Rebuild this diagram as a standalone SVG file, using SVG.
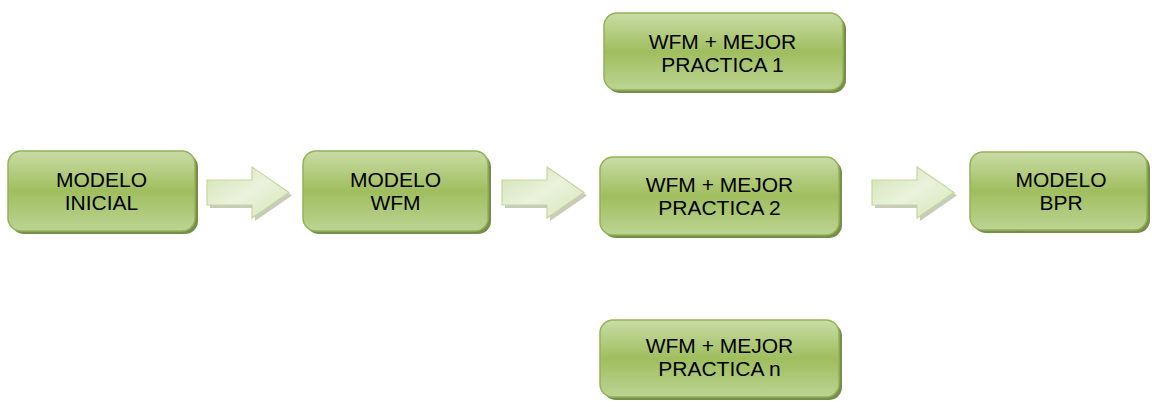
<svg xmlns="http://www.w3.org/2000/svg" width="1152" height="401" viewBox="0 0 1152 401">
  <defs>
    <linearGradient id="boxFill" x1="0" y1="0" x2="0" y2="1">
      <stop offset="0" stop-color="#c9dca6"/>
      <stop offset="0.5" stop-color="#9fbe5e"/>
      <stop offset="1" stop-color="#bcd493"/>
    </linearGradient>
    <linearGradient id="arrowFill" x1="0" y1="0" x2="1" y2="1">
      <stop offset="0" stop-color="#d2e3b2"/>
      <stop offset="0.5" stop-color="#eaf2dc"/>
      <stop offset="1" stop-color="#d6e6b8"/>
    </linearGradient>
    <path id="arrowShape" d="M0,13 H45 V0 L82,25.5 L45,51 V38 H0 Z"/>
  </defs>
  <style>
    .shadow { fill: #5d7a2c; opacity: 0.85; }
    .box { fill: url(#boxFill); stroke: #93b356; stroke-width: 1.5; }
    .label { font-family: "Liberation Sans", Arial, sans-serif; font-size: 21px; fill: #000; text-anchor: middle; }
    .arrow { fill: url(#arrowFill); stroke: #c3d99b; stroke-width: 1.2; }
    .arrow-shadow { fill: #b3b3a0; opacity: 0.7; }
  </style>

  <!-- connectors: block arrows between stages -->
  <g id="connectors">
    <g transform="translate(207,167)">
      <use href="#arrowShape" class="arrow-shadow" transform="translate(3,3)"/>
      <use href="#arrowShape" class="arrow"/>
    </g>
    <g transform="translate(502,167)">
      <use href="#arrowShape" class="arrow-shadow" transform="translate(3,3)"/>
      <use href="#arrowShape" class="arrow"/>
    </g>
    <g transform="translate(872,167)">
      <use href="#arrowShape" class="arrow-shadow" transform="translate(3,3)"/>
      <use href="#arrowShape" class="arrow"/>
    </g>
  </g>

  <g id="modelo-inicial">
    <rect class="shadow" x="11" y="154" width="187" height="80" rx="13"/>
    <rect class="box" x="8" y="151" width="187" height="80" rx="13"/>
    <text class="label" x="101.5" y="187">MODELO</text>
    <text class="label" x="101.5" y="210">INICIAL</text>
  </g>

  <g id="modelo-wfm">
    <rect class="shadow" x="306" y="154" width="185" height="80" rx="13"/>
    <rect class="box" x="303" y="151" width="185" height="80" rx="13"/>
    <text class="label" x="395.5" y="187">MODELO</text>
    <text class="label" x="395.5" y="210">WFM</text>
  </g>

  <g id="wfm-practica-1">
    <rect class="shadow" x="607" y="16" width="239" height="77" rx="13"/>
    <rect class="box" x="604" y="13" width="239" height="77" rx="13"/>
    <text class="label" x="722.5" y="49">WFM + MEJOR</text>
    <text class="label" x="722.5" y="72">PRACTICA 1</text>
  </g>

  <g id="wfm-practica-2">
    <rect class="shadow" x="603" y="160" width="239" height="78" rx="13"/>
    <rect class="box" x="600" y="157" width="239" height="78" rx="13"/>
    <text class="label" x="719.5" y="192">WFM + MEJOR</text>
    <text class="label" x="719.5" y="215">PRACTICA 2</text>
  </g>

  <g id="wfm-practica-n">
    <rect class="shadow" x="603" y="323" width="239" height="77" rx="13"/>
    <rect class="box" x="600" y="320" width="239" height="77" rx="13"/>
    <text class="label" x="719.5" y="353">WFM + MEJOR</text>
    <text class="label" x="719.5" y="376">PRACTICA n</text>
  </g>

  <g id="modelo-bpr">
    <rect class="shadow" x="973" y="155" width="177" height="78" rx="13"/>
    <rect class="box" x="970" y="152" width="177" height="78" rx="13"/>
    <text class="label" x="1061" y="187">MODELO</text>
    <text class="label" x="1061" y="210">BPR</text>
  </g>
</svg>
